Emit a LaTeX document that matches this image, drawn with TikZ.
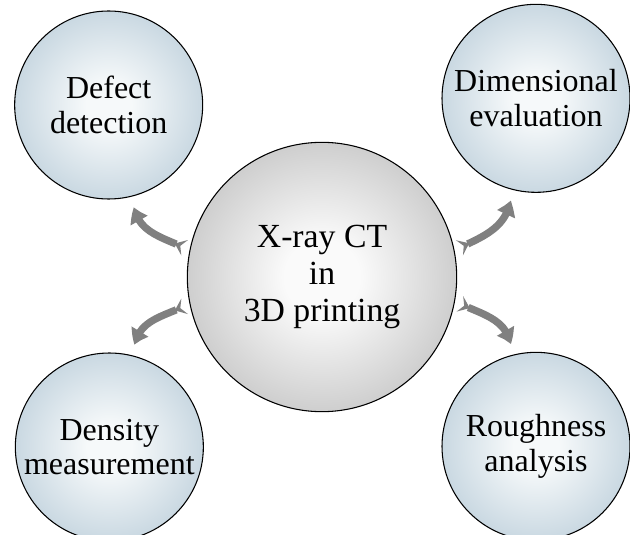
\documentclass[tikz,border=0pt]{standalone}
\usepackage{fontspec}
\setmainfont{Liberation Serif}
\usetikzlibrary{positioning,arrows.meta,bending}

\definecolor{arrowgray}{RGB}{128,128,128}
\definecolor{bubbleedge}{RGB}{178,199,213}
\definecolor{bubblemid}{RGB}{246,249,250}
\definecolor{hubedge}{RGB}{182,182,182}
\definecolor{hubmid}{RGB}{250,250,250}
% soft radial fills, edge colour reached only at the rim
\pgfdeclareradialshading{bubbleglow}{\pgfpoint{0bp}{0bp}}{%
    color(0bp)=(bubblemid);
    color(6bp)=(bubblemid);
    color(35bp)=(bubbleedge);
    color(50bp)=(bubbleedge)}
\pgfdeclareradialshading{hubglow}{\pgfpoint{0bp}{0bp}}{%
    color(0bp)=(hubmid);
    color(7bp)=(hubmid);
    color(35bp)=(hubedge);
    color(50bp)=(hubedge)}

\begin{document}
\begin{tikzpicture}[x=0.75pt, y=-0.75pt, inner sep=0pt, node distance=1cm, on grid]
    \tikzstyle{hub}=[circle, draw=black, line width=0.8pt, minimum size=202pt,
        shading=hubglow, align=center,
        font=\fontsize{25.3}{27.4}\selectfont]
    \tikzstyle{topic}=[circle, draw=black, line width=0.8pt, minimum size=141pt,
        shading=bubbleglow, align=center,
        font=\fontsize{24}{26}\selectfont]
    \tikzstyle{fan}=[draw=arrowgray, line width=5.5pt,
        {Stealth[reversed, length=8pt, width=12.5pt, inset=3.5pt]}-{Triangle[bend, length=11pt, width=14pt]}]

    \useasboundingbox (0,0) rectangle (630,534);

    \node[hub] (xct) at (322,277) {X-ray CT\\in\\3D printing};
    \node[topic] (defect) [above left=129pt and 160pt of xct] {Defect\\detection};
    \node[topic] (dimens) [above right=134pt and 160.5pt of xct] {Dimensional\\evaluation};
    \node[topic] (density) [below left=127.5pt and 159.5pt of xct] {Density\\measurement};
    \node[topic] (rough) [below right=127pt and 160.5pt of xct] {Roughness\\analysis};

    \draw[fan] ([shift={(168:4pt)}]xct.168) to[out=155, in=-80] ([shift={(-76:8pt)}]defect.-76);
    \draw[fan] ([shift={(12:4pt)}]xct.12) to[out=25, in=-100] ([shift={(-104:8pt)}]dimens.-104);
    \draw[fan] ([shift={(192:4pt)}]xct.192) to[out=205, in=80] ([shift={(76:8pt)}]density.76);
    \draw[fan] ([shift={(-11:4pt)}]xct.-11) to[out=-25, in=100] ([shift={(104:8pt)}]rough.104);
\end{tikzpicture}
\end{document}
